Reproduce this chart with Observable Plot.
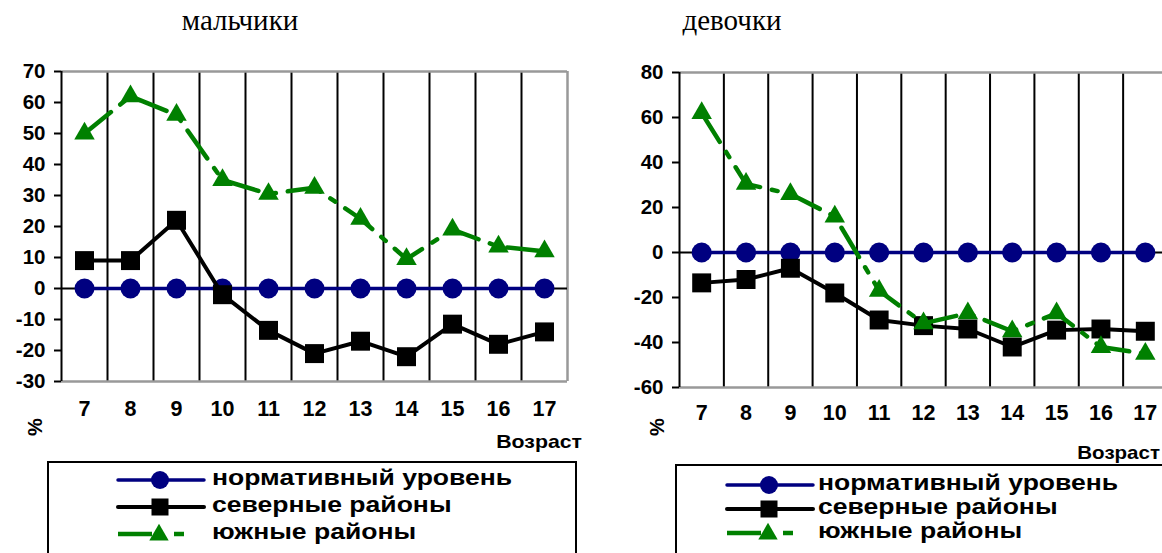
<!DOCTYPE html>
<html><head><meta charset="utf-8">
<script src="https://cdn.jsdelivr.net/npm/d3@7"></script>
<script src="https://cdn.jsdelivr.net/npm/@observablehq/plot@0.6"></script>
<style>
body{margin:0;background:#fff;}
#root{position:relative;width:1162px;height:553px;overflow:hidden;background:#fff;font-family:"Liberation Sans",Arial,sans-serif;color:#000;}
.abs{position:absolute;white-space:nowrap;line-height:1;}
.title{font-family:"Liberation Serif","Times New Roman",serif;font-size:29px;}
.pct{font-weight:bold;font-size:20px;transform:translate(-50%,-50%) rotate(-90deg);}
.xl{font-weight:bold;font-size:19px;}
.legend{position:absolute;border:2px solid #000;background:#fff;box-sizing:border-box;}
.lrow{position:absolute;white-space:nowrap;font-weight:bold;font-size:22.5px;line-height:1;transform-origin:0 50%;}
</style></head><body><div id="root"></div>
<script>
const ages = [7, 8, 9, 10, 11, 12, 13, 14, 15, 16, 17];
const boysNormative = [0, 0, 0, 0, 0, 0, 0, 0, 0, 0, 0];
const boysNorth = [9, 9, 22, -2, -13.5, -21, -17, -22, -11.5, -18, -14];
const boysSouth = [50, 62, 56, 35, 30.5, 32.5, 22.5, 9.5, 19, 13.5, 12];
const girlsNormative = [0, 0, 0, 0, 0, 0, 0, 0, 0, 0, 0];
const girlsNorth = [-13.5, -12, -7, -18, -30, -32.5, -34, -42, -34.5, -34, -35];
const girlsSouth = [62, 30.5, 26, 16, -17, -31.5, -27, -35, -27, -42, -45];
const boysYTicks = [-30, -20, -10, 0, 10, 20, 30, 40, 50, 60, 70];
const girlsYTicks = [-60, -40, -20, 0, 20, 40, 60, 80];
const seriesNames = ["нормативный уровень", "северные районы", "южные районы"];
const seriesColors = ["#000080", "#000000", "#008000"];
const seriesSymbols = ["circle", "square", "triangle"];
const titles = ["мальчики", "девочки"];
const xTitle = "Возраст";
const yTitle = "%";

const root = document.getElementById("root");

function chart(o) {
  const rows = ages.map((a, i) => ({age: a, norm: o.norm[i], north: o.north[i], south: o.south[i]}));
  const gridAt = ages.slice(1).map(a => a - 0.5);
  const x0 = ages[0] - 0.5, x1 = ages[ages.length - 1] + 0.5;
  return Plot.plot({
    width: o.width, height: o.height,
    marginTop: o.mt, marginRight: o.mr, marginBottom: o.mb, marginLeft: o.ml,
    x: {domain: [x0, x1], axis: null},
    y: {domain: o.yDomain, axis: null},
    style: {fontFamily: '"Liberation Sans", Arial, sans-serif', fontWeight: "bold", color: "#000", background: "transparent", overflow: "visible"},
    marks: [
      Plot.ruleX(gridAt, {stroke: "#000", strokeWidth: 2}),
      Plot.ruleY([o.yDomain[1]], {stroke: "#999", strokeWidth: 2.5}),
      Plot.ruleY([o.yDomain[0]], {stroke: "#999", strokeWidth: 2.5}),
      Plot.ruleX([x1], {stroke: "#999", strokeWidth: 2.5}),
      Plot.ruleX([x0], {stroke: "#000", strokeWidth: 2}),
      Plot.ruleY([0], {stroke: "#000", strokeWidth: 2}),
      Plot.axisY({ticks: o.yTicks, tickSize: 7, tickPadding: 9, strokeWidth: 2, tickFormat: d => String(d), fontSize: 20.5, fontWeight: "bold", label: null}),
      Plot.text(ages, {x: d => d, frameAnchor: "bottom", dy: o.labelDy, text: d => String(d), fontSize: 21.5, fontWeight: "bold"}),
      Plot.line(rows, {x: "age", y: "norm", stroke: seriesColors[0], strokeWidth: 3.5}),
      Plot.dot(rows, {x: "age", y: "norm", r: 10, fill: seriesColors[0], symbol: seriesSymbols[0]}),
      Plot.line(rows, {x: "age", y: "north", stroke: seriesColors[1], strokeWidth: 4}),
      Plot.dot(rows, {x: "age", y: "north", r: 10.7, fill: seriesColors[1], symbol: seriesSymbols[1]}),
      Plot.line(rows, {x: "age", y: "south", stroke: seriesColors[2], strokeWidth: 4.5, strokeDasharray: "34,12,6,12"}),
      Plot.dot(rows, {x: "age", y: "south", r: 7.6, fill: seriesColors[2], symbol: seriesSymbols[2]})
    ]
  });
}

function place(el, left, top) {
  el.style.position = "absolute";
  el.style.left = left + "px";
  el.style.top = top + "px";
  root.appendChild(el);
}

const left = chart({norm: boysNormative, north: boysNorth, south: boysSouth, yDomain: [-30, 70], yTicks: boysYTicks,
  width: 600, height: 460, mt: 71, mr: 33, mb: 79, ml: 61, labelDy: 34});
place(left, 0, 0);
const right = chart({norm: girlsNormative, north: girlsNorth, south: girlsSouth, yDomain: [-60, 80], yTicks: girlsYTicks,
  width: 600, height: 460, mt: 72, mr: 33, mb: 73, ml: 79, labelDy: 32});
place(right, 600, 0);

function text(cls, str, left, top, extra) {
  const d = document.createElement("div");
  d.className = "abs " + cls;
  d.textContent = str;
  d.style.left = left + "px";
  d.style.top = top + "px";
  if (extra) Object.assign(d.style, extra);
  root.appendChild(d);
  return d;
}

text("title", titles[0], 240, 20, {transform: "translate(-50%,-50%)"});
text("title", titles[1], 732, 20, {transform: "translate(-50%,-50%)"});
text("pct", yTitle, 35, 427);
text("pct", yTitle, 657, 427);
text("xl", xTitle, 582, 441, {transform: "translate(-100%,-50%) scaleX(1.12)", transformOrigin: "100% 50%"});
text("xl", xTitle, 1160, 452, {transform: "translate(-100%,-50%) scaleX(1.08)", transformOrigin: "100% 50%"});

function symbolSvg(i) {
  const ns = "http://www.w3.org/2000/svg";
  const svg = document.createElementNS(ns, "svg");
  svg.setAttribute("width", 90); svg.setAttribute("height", 24);
  const c = seriesColors[i];
  if (i === 2) {
    svg.innerHTML = `<line x1="2" y1="12" x2="36" y2="12" stroke="${c}" stroke-width="4.5"/>` +
      `<line x1="58" y1="12" x2="68" y2="12" stroke="${c}" stroke-width="4.5"/>` +
      `<path d="${d3.symbol(d3.symbolTriangle, 7.2 * 7.2 * Math.PI)()}" transform="translate(43,13)" fill="${c}"/>`;
  } else {
    svg.innerHTML = `<line x1="2" y1="12" x2="88" y2="12" stroke="${c}" stroke-width="${i === 0 ? 3.5 : 4}" stroke-linecap="round"/>` +
      (i === 0 ? `<circle cx="44" cy="12" r="9" fill="${c}"/>` : `<rect x="35.5" y="3.5" width="17" height="17" fill="${c}"/>`);
  }
  return svg;
}

function legend(boxLeft, boxTop, boxWidth, symLeft, textLeft, rowYs) {
  const box = document.createElement("div");
  box.className = "legend";
  Object.assign(box.style, {left: boxLeft + "px", top: boxTop + "px", width: boxWidth + "px", height: "120px"});
  root.appendChild(box);
  seriesNames.forEach((name, i) => {
    const s = symbolSvg(i);
    s.style.position = "absolute";
    s.style.left = (symLeft - 2) + "px";
    s.style.top = (rowYs[i] - 12) + "px";
    root.appendChild(s);
    const t = document.createElement("div");
    t.className = "lrow";
    t.textContent = name;
    t.style.left = textLeft + "px";
    t.style.top = rowYs[i] + "px";
    t.style.transform = "translate(0,-58%) scaleX(1.18)";
    root.appendChild(t);
  });
}
legend(47, 461, 530, 118, 212, [480, 507, 534]);
legend(675, 464, 520, 727, 818, [485, 509, 533]);
</script></body></html>
